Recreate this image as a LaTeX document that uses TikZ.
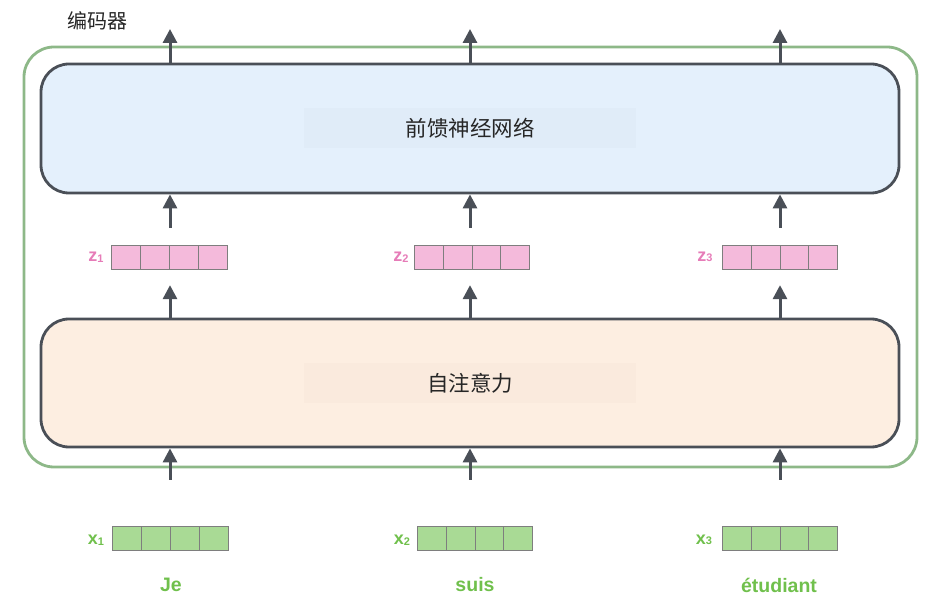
\documentclass[tikz,border=0pt]{standalone}
\usepackage{fontspec}
\setmainfont{Liberation Sans}
\newfontfamily\cjk{Noto Sans CJK SC}
\usetikzlibrary{arrows.meta,calc}
\definecolor{encgreen}{HTML}{8DB888}
\definecolor{boxline}{HTML}{4A4F57}
\definecolor{ffnfill}{HTML}{E4F0FC}
\definecolor{ffnback}{HTML}{E0ECF8}
\definecolor{safill}{HTML}{FDEEE1}
\definecolor{saback}{HTML}{FAEADD}
\definecolor{zfill}{HTML}{F4BADB}
\definecolor{zlabel}{HTML}{E67CB8}
\definecolor{xfill}{HTML}{A9DA95}
\definecolor{xlabel}{HTML}{70C04C}
\definecolor{cellline}{HTML}{7E7E7E}
\tikzset{
  bigbox/.style={draw=boxline, line width=2.8pt, rounded corners=28pt, minimum width=858pt},
  textback/.style={minimum width=332pt, minimum height=40pt, inner sep=0pt, font=\cjk\fontsize{21.5}{24}\selectfont, text=black!85},
  vec/.style={draw=cellline, line width=0.8pt, minimum width=115.5pt, minimum height=24.5pt, inner sep=0pt,
    path picture={
      \foreach \f in {0.25,0.5,0.75}{
        \draw[cellline, line width=0.8pt]
          ($(path picture bounding box.south west)!\f!(path picture bounding box.south east)$) --
          ($(path picture bounding box.north west)!\f!(path picture bounding box.north east)$);
      }}},
  zvec/.style={vec, fill=zfill},
  xvec/.style={vec, fill=xfill},
  zlab/.style={text=zlabel, font=\bfseries\fontsize{18}{18}\selectfont, inner sep=0pt},
  xlab/.style={text=xlabel, font=\bfseries\fontsize{18}{18}\selectfont, inner sep=0pt},
  word/.style={text=xlabel, font=\bfseries\fontsize{19.5}{22}\selectfont, inner sep=0pt},
  arr/.style={draw=boxline, line width=3pt, -{Triangle[length=14pt,width=14pt]}},
}
\newcommand{\sub}[1]{\raisebox{-0.5pt}{\fontsize{11}{11}\selectfont #1}}
\begin{document}
\begin{tikzpicture}[x=1pt,y=-1pt]
\useasboundingbox (0,0) rectangle (929,612);
% encoder frame
\node[draw=encgreen, line width=2.8pt, rounded corners=30pt, minimum width=893pt, minimum height=420pt] (enc) at (470.5,257) {};
\node[anchor=base west, inner sep=0pt, font=\cjk\fontsize{20}{22}\selectfont, text=black!85] (enclab) at (67,29) {编码器};
% big boxes
\node[bigbox, fill=ffnfill, minimum height=129pt] (ffn) at (470,128.5) {};
\node[textback, fill=ffnback] (ffntext) at (ffn.center) {前馈神经网络};
\node[bigbox, fill=safill, minimum height=128pt] (sa) at (470,383) {};
\node[textback, fill=saback] (satext) at (sa.center) {自注意力};
% columns
\coordinate (c1) at (170,0);
\coordinate (c2) at (470,0);
\coordinate (c3) at (780,0);
% z vectors
\node[zvec] (z1) at (169.5,257.5) {};
\node[zvec] (z2) at (472,257.5) {};
\node[zvec] (z3) at (780,257.5) {};
\node[zlab] (zl1) at (96,257) {z\sub{1}};
\node[zlab] (zl2) at (401,257) {z\sub{2}};
\node[zlab] (zl3) at (705,257) {z\sub{3}};
% x vectors
\node[xvec] (x1) at (170.5,538.5) {};
\node[xvec] (x2) at (475,538.5) {};
\node[xvec] (x3) at (780,538.5) {};
\node[xlab] (xl1) at (96,540) {x\sub{1}};
\node[xlab] (xl2) at (402,540) {x\sub{2}};
\node[xlab] (xl3) at (704,540) {x\sub{3}};
% words
\node[word] (w1) at (171,585) {Je};
\node[word] (w2) at (475,585) {suis};
\node[word] (w3) at (779,585) {étudiant};
% top free ends
\coordinate (t1) at (170,29);
\coordinate (t2) at (470,29);
\coordinate (t3) at (780,29);
% arrows
\foreach \i in {1,2,3}{
  \draw[arr, shorten <=46pt] (x\i.north -| c\i) -- (sa.south -| c\i);
  \draw[arr, shorten >=15pt] (sa.north -| c\i) -- (z\i.south -| c\i);
  \draw[arr, shorten <=17pt] (z\i.north -| c\i) -- (ffn.south -| c\i);
  \draw[arr] (ffn.north -| c\i) -- (t\i);
}
\end{tikzpicture}
\end{document}
